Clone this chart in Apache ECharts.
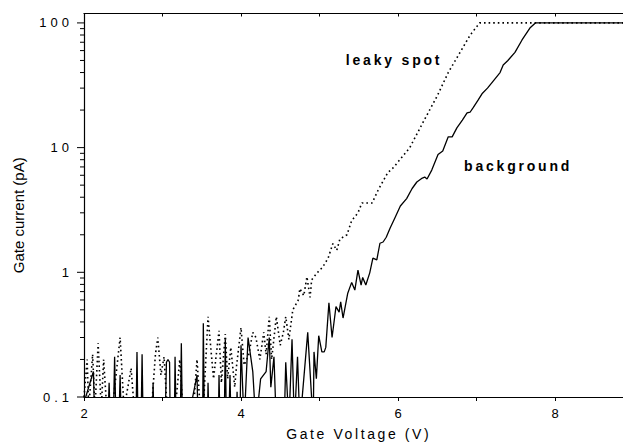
<!DOCTYPE html>
<html>
<head>
<meta charset="utf-8">
<script src="https://cdn.jsdelivr.net/npm/echarts/dist/echarts.min.js"></script>
<style>
html,body{margin:0;padding:0;background:#fff;}
#chart{width:623px;height:445px;}
</style>
</head>
<body>
<div id="chart"></div>
<script>
// ---- data ----
const bgV = [2.00,2.12,2.14,2.30,2.32,2.34,2.37,2.39,2.41,2.44,2.46,2.48,2.66,2.675,2.69,2.725,2.74,2.755,2.865,2.88,2.895,
  3.03,3.05,3.07,3.09,3.10,3.15,3.16,3.175,3.225,3.24,3.255,3.37,3.44,3.455,3.51,3.52,3.535,3.57,3.58,3.595,3.71,3.72,3.735,
  3.785,3.80,3.815,3.84,3.86,3.875,3.94,3.95,3.96,3.985,4.00,4.04,4.09,4.15,4.19,4.25,4.32,4.36,4.38,4.42,4.45,4.55,4.57,
  4.61,4.65,4.68,4.72,4.75,4.85,4.92,4.93,4.96,4.99,5.03,5.06,5.08,5.12,5.16,5.21,5.25,5.27,5.30,5.36,5.41,5.45,5.49,5.53,
  5.55,5.59,5.64,5.68,5.73,5.77,5.81,5.85,5.90,5.96,6.03,6.11,6.18,6.24,6.31,6.34,6.37,6.43,6.51,6.57,6.64,6.69,6.75,6.82,
  6.88,6.92,6.96,7.02,7.07,7.14,7.21,7.30,7.34,7.40,7.49,7.58,7.68,7.75,9.00];
const bgI = [0.09,0.16,0.05,0.05,0.13,0.05,0.05,0.21,0.05,0.05,0.15,0.05,0.05,0.23,0.05,0.05,0.22,0.05,0.05,0.13,0.05,
  0.05,0.19,0.2,0.19,0.05,0.05,0.21,0.05,0.05,0.27,0.05,0.09,0.15,0.05,0.05,0.39,0.05,0.05,0.13,0.05,0.05,0.15,0.05,
  0.05,0.29,0.05,0.05,0.15,0.05,0.06,0.11,0.06,0.05,0.26,0.06,0.30,0.16,0.06,0.14,0.16,0.30,0.12,0.21,0.06,0.06,0.19,
  0.06,0.29,0.06,0.21,0.06,0.33,0.06,0.23,0.14,0.31,0.23,0.23,0.25,0.57,0.30,0.53,0.48,0.58,0.43,0.68,0.83,0.72,1.04,0.79,
  0.91,0.79,0.99,1.30,1.26,1.71,1.75,1.91,2.27,2.73,3.4,3.9,4.7,5.3,5.7,5.8,5.6,6.6,8.8,9.4,12.2,12.2,14.4,16.6,
  19,19.3,21,24,27,30,34,40,46,50,58,73,91,100,100];

const lkV = [2.00,2.04,2.06,2.11,2.14,2.18,2.22,2.25,2.29,2.37,2.46,2.51,2.60,2.64,2.86,2.91,2.94,2.98,3.02,3.06,3.17,3.22,3.26,
  3.40,3.44,3.48,3.52,3.58,3.65,3.72,3.75,3.80,3.83,3.87,3.92,3.94,4.00,4.04,4.10,4.15,4.19,4.24,4.29,4.32,4.36,4.39,4.45,
  4.50,4.54,4.57,4.61,4.66,4.73,4.75,4.80,4.84,4.88,4.90,4.97,5.04,5.11,5.17,5.22,5.26,5.35,5.41,5.49,5.54,5.67,5.75,5.87,
  5.94,6.15,6.32,6.50,6.64,6.79,6.92,7.04,9.00];
const lkI = [0.1,0.2,0.08,0.22,0.08,0.27,0.08,0.2,0.08,0.09,0.3,0.08,0.17,0.08,0.08,0.22,0.3,0.15,0.21,0.08,0.09,0.2,0.08,
  0.09,0.2,0.08,0.08,0.44,0.14,0.34,0.13,0.32,0.14,0.25,0.12,0.17,0.36,0.18,0.22,0.33,0.30,0.2,0.33,0.22,0.44,0.2,0.44,
  0.26,0.33,0.44,0.29,0.5,0.6,0.74,0.65,0.92,0.63,0.87,0.99,1.1,1.3,1.7,1.5,1.85,2.0,2.6,3.0,3.6,3.6,4.6,6.3,
  6.9,10,16,26,40,58,80,100,100];

const xLabels = [2,4,6,8];
const yMajorTicks = [0.1,1,10,100];
const yMinorTicks = [0.2,0.3,0.4,0.5,0.6,0.7,0.8,0.9,2,3,4,5,6,7,8,9,20,30,40,50,60,70,80,90];
const annotations = [
  {name:'leaky spot', v:5.95, i:50.4},
  {name:'background', v:7.53, i:7.1}
];
const X_MIN = 2, X_MAX = 9, Y_MIN = 0.1, Y_MAX = 119;

const FONT = 'Liberation Sans, Arial, Helvetica, sans-serif';
const chart = echarts.init(document.getElementById('chart'), null, {renderer:'svg'});

function tickSeries(values, len){
  return {
    type:'custom', silent:true, xAxisIndex:0, yAxisIndex:0, clip:false, z:5,
    data: values.map(v => [X_MIN, v]),
    renderItem: function(params, api){
      const p = api.coord([api.value(0), api.value(1)]);
      return {type:'line', shape:{x1:p[0]-len, y1:p[1], x2:p[0], y2:p[1]},
              style:{stroke:'#000', lineWidth:1}};
    }
  };
}

const option = {
  animation:false,
  backgroundColor:'#fff',
  grid:{left:84, top:13.5, bottom:48, right:-10.5, containLabel:false, outerBoundsMode:'none'},
  xAxis:[{
    type:'value', min:X_MIN, max:X_MAX, interval:1, position:'bottom',
    name:'Gate Voltage (V)', nameLocation:'middle', nameGap:30,
    nameTextStyle:{fontFamily:FONT, fontSize:14, color:'#000'},
    axisLine:{show:true, lineStyle:{color:'#000', width:1.2}},
    axisTick:{show:true, inside:false, length:4, lineStyle:{color:'#000', width:1}},
    axisLabel:{fontFamily:FONT, fontSize:13, color:'#000', margin:10,
      formatter: v => (xLabels.indexOf(v) >= 0 ? String(v) : '')},
    splitLine:{show:false}
  },{
    type:'value', min:X_MIN, max:X_MAX, interval:1, position:'top',
    axisLine:{show:true, lineStyle:{color:'#000', width:1.2}},
    axisTick:{show:true, inside:true, length:3, lineStyle:{color:'#000', width:1}},
    axisLabel:{show:false}, splitLine:{show:false}
  }],
  yAxis:[{
    type:'log', logBase:10, min:Y_MIN, max:Y_MAX,
    name:'Gate current (pA)', nameLocation:'middle', nameGap:58, nameMoveOverlap:false,
    nameTextStyle:{fontFamily:FONT, fontSize:15, color:'#000', padding:[0,20,0,0]},
    axisLine:{show:true, lineStyle:{color:'#000', width:1.2}},
    axisTick:{show:false},
    axisLabel:{fontFamily:FONT, fontSize:13, color:'#000', margin:11,
      formatter: function(v){
        for (const t of yMajorTicks) { if (Math.abs(v - t) / t < 1e-6) return String(t); }
        return '';
      }},
    splitLine:{show:false}
  }],
  series:[
    {
      name:'background', type:'line', showSymbol:false, symbol:'none', clip:true,
      data: bgV.map((v,k) => [v, bgI[k]]),
      lineStyle:{color:'#000', width:1.3, type:'solid'},
      markPoint:{
        symbol:'circle', symbolSize:1, itemStyle:{color:'rgba(0,0,0,0)'},
        label:{show:true, position:'inside', formatter:'{b}', fontFamily:FONT, fontSize:14, fontWeight:'bold', color:'#000'},
        data: annotations.map(a => ({name:a.name, coord:[a.v, a.i]}))
      }
    },
    {
      name:'leaky spot', type:'line', showSymbol:false, symbol:'none', clip:true,
      data: lkV.map((v,k) => [v, lkI[k]]),
      lineStyle:{color:'#000', width:1.6, type:[1.6,3], cap:'butt'}
    },
    tickSeries(yMajorTicks, 7),
    tickSeries(yMinorTicks, 4)
  ]
};
chart.setOption(option);

function applySpacing(){
  document.querySelectorAll('#chart svg text').forEach(t => {
    const s = t.textContent;
    if (s === 'Gate Voltage (V)') t.style.letterSpacing = '2.6px';
    else if (s === 'leaky spot' || s === 'background') t.style.letterSpacing = '2.8px';
    else if (s === '0.1' || s === '1' || s === '10' || s === '100') t.style.letterSpacing = '4px';
  });
}
applySpacing();
chart.on('finished', applySpacing);
</script>
</body>
</html>
